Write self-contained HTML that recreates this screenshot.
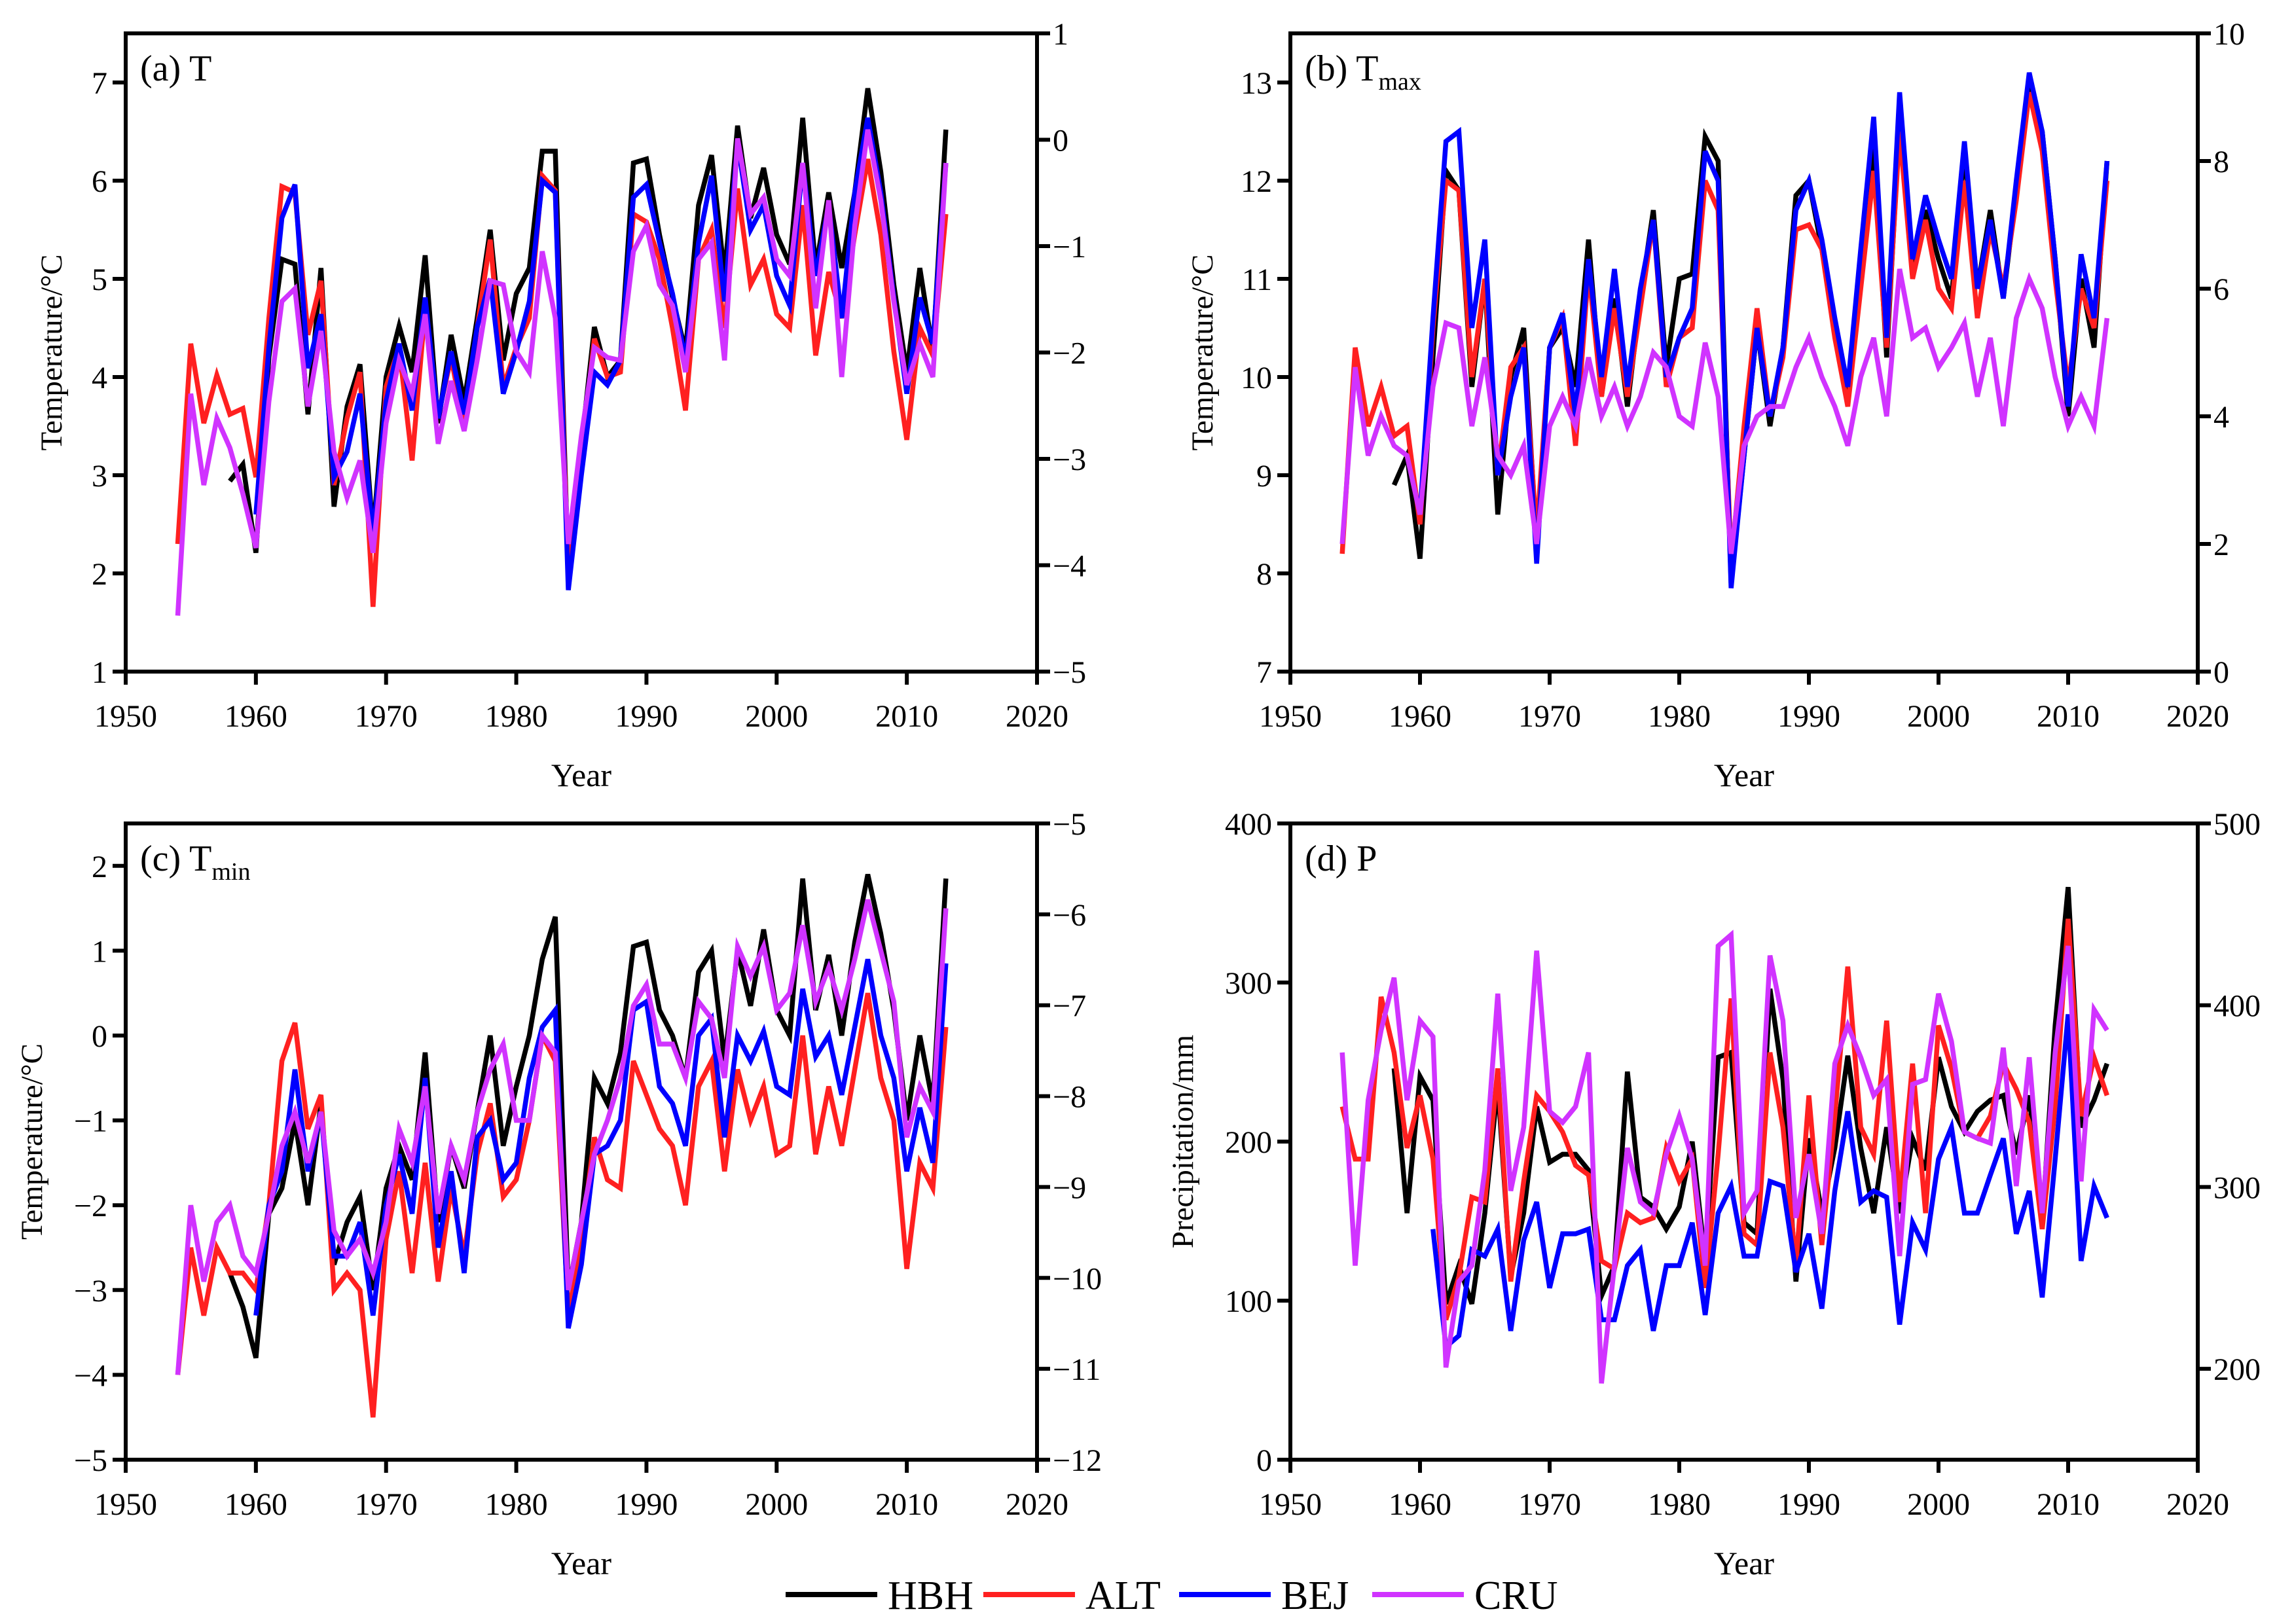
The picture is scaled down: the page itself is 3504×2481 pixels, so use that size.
<!DOCTYPE html>
<html><head><meta charset="utf-8"><style>
html,body{margin:0;padding:0;background:#fff}
svg{display:block}
text{font-family:"Liberation Serif",serif;fill:#000}
</style></head><body>
<svg id="fig" xmlns="http://www.w3.org/2000/svg" width="3504" height="2481" viewBox="0 0 3504 2481">
<rect width="3504" height="2481" fill="#fff"/>
<g id="legend"></g>
</svg>
<script>
const years = []; for (let y = 1954; y <= 2013; y++) years.push(y);
const xTicks = [1950,1960,1970,1980,1990,2000,2010,2020];
// (a) T
const aHBH = [null,null,null,null,2.94,3.11,2.21,4.2,5.2,5.15,3.62,5.11,2.68,3.7,4.13,2.4,4.0,4.52,4.05,5.24,3.53,4.43,3.75,4.6,5.5,4.17,4.85,5.11,6.3,6.3,2.0,3.3,4.51,4.0,4.17,6.18,6.22,5.45,4.81,4.26,5.75,6.26,5.03,6.56,5.62,6.13,5.45,5.15,6.64,5.11,5.88,5.11,5.88,6.94,6.09,4.94,4.05,5.11,4.26,6.52];
const aALT = [2.3,4.34,3.53,4.02,3.62,3.68,2.98,4.6,5.94,5.88,4.43,4.98,2.9,3.58,4.05,1.66,3.9,4.3,3.15,4.7,3.6,4.2,3.5,4.5,5.4,3.9,4.3,4.6,6.05,5.9,2.0,3.2,4.39,4.0,4.05,5.66,5.58,5.2,4.5,3.66,5.2,5.5,4.5,5.92,4.94,5.2,4.64,4.5,5.75,4.22,5.07,4.6,5.45,6.22,5.45,4.26,3.36,4.5,4.22,5.66];
const aBEJ = [null,null,null,null,null,null,2.6,4.3,5.62,5.96,4.09,4.64,2.98,3.24,3.83,2.38,3.75,4.34,3.66,4.81,3.58,4.26,3.62,4.51,5.0,3.83,4.26,4.77,6.0,5.88,1.83,3.0,4.05,3.92,4.17,5.83,5.96,5.37,4.85,4.17,5.37,6.05,4.77,6.39,5.5,5.75,5.03,4.73,6.18,5.03,5.75,4.6,5.88,6.64,5.88,4.81,3.83,4.81,4.34,6.18];
const aCRU = [1.57,3.83,2.9,3.58,3.28,2.81,2.26,3.75,4.77,4.9,3.7,4.47,3.24,2.77,3.15,2.21,3.53,4.17,3.83,4.64,3.32,3.96,3.45,4.17,4.98,4.94,4.26,4.05,5.28,4.6,2.3,3.4,4.3,4.2,4.17,5.28,5.54,4.94,4.73,4.05,5.2,5.37,4.17,6.43,5.66,5.83,5.2,5.03,6.18,4.7,5.8,4.0,5.54,6.52,5.8,4.77,3.92,4.34,4.0,6.18];
// (b) Tmax
const bHBH = [null,null,null,null,8.9,9.2,8.15,10.2,12.1,11.9,9.9,11.0,8.6,10.0,10.5,8.3,10.3,10.5,9.9,11.4,9.8,10.8,9.7,10.8,11.7,10.1,11.0,11.05,12.45,12.2,7.9,9.2,10.5,9.5,10.3,11.85,12.0,11.3,10.5,9.8,11.0,12.4,10.2,12.6,11.1,11.7,11.2,10.8,12.3,10.9,11.7,10.8,11.9,13.0,12.5,11.2,9.6,11.0,10.3,12.2];
const bALT = [8.2,10.3,9.5,9.9,9.4,9.5,8.5,10.5,12.0,11.9,10.0,11.0,9.0,10.1,10.3,8.4,10.3,10.6,9.3,11.1,9.8,10.7,9.8,10.7,11.6,9.9,10.4,10.5,12.0,11.7,8.1,9.5,10.7,9.6,10.2,11.5,11.55,11.3,10.4,9.7,10.9,12.1,10.3,12.5,11.0,11.6,10.9,10.7,12.0,10.6,11.5,10.9,11.8,12.9,12.3,11.0,9.9,10.9,10.5,12.0];
const bBEJ = [null,null,null,null,null,null,8.6,10.6,12.4,12.5,10.5,11.4,9.0,9.8,10.3,8.1,10.3,10.65,9.6,11.2,10.0,11.1,9.9,10.9,11.6,10.0,10.4,10.7,12.3,12.0,7.85,9.2,10.5,9.6,10.3,11.7,12.0,11.4,10.6,9.9,11.3,12.65,10.4,12.9,11.2,11.85,11.4,11.0,12.4,10.9,11.6,10.8,12.0,13.1,12.5,11.2,9.7,11.25,10.6,12.2];
const bCRU = [8.3,10.1,9.2,9.6,9.3,9.2,8.6,9.9,10.55,10.5,9.5,10.2,9.2,9.0,9.3,8.3,9.5,9.8,9.5,10.2,9.6,9.9,9.5,9.8,10.25,10.1,9.6,9.5,10.35,9.8,8.2,9.3,9.6,9.7,9.7,10.1,10.4,10.0,9.7,9.3,10.0,10.4,9.6,11.1,10.4,10.5,10.1,10.3,10.55,9.8,10.4,9.5,10.6,11.0,10.7,10.0,9.5,9.8,9.5,10.6];
// (c) Tmin
const cHBH = [null,null,null,null,-2.8,-3.2,-3.8,-2.1,-1.8,-1.0,-2.0,-0.8,-2.7,-2.2,-1.9,-3.0,-1.8,-1.3,-1.7,-0.2,-2.2,-1.3,-1.8,-0.9,0.0,-1.3,-0.6,0.0,0.9,1.4,-3.0,-2.2,-0.5,-0.8,-0.2,1.05,1.1,0.3,0.0,-0.5,0.75,1.0,-0.3,1.0,0.35,1.25,0.3,0.0,1.85,0.3,0.95,0.0,1.1,1.9,1.2,0.3,-1.0,0.0,-0.8,1.85];
const cALT = [-4.0,-2.5,-3.3,-2.5,-2.8,-2.8,-3.0,-2.0,-0.3,0.15,-1.1,-0.7,-3.0,-2.8,-3.0,-4.5,-2.4,-1.6,-2.8,-1.5,-2.9,-1.8,-2.6,-1.4,-0.8,-1.9,-1.7,-1.0,0.0,-0.3,-3.3,-2.4,-1.2,-1.7,-1.8,-0.3,-0.7,-1.1,-1.3,-2.0,-0.6,-0.3,-1.6,-0.4,-1.0,-0.6,-1.4,-1.3,0.0,-1.4,-0.6,-1.3,-0.4,0.5,-0.5,-1.0,-2.75,-1.5,-1.8,0.1];
const cBEJ = [null,null,null,null,null,null,-3.3,-2.0,-1.6,-0.4,-1.6,-0.9,-2.6,-2.6,-2.2,-3.3,-2.0,-1.4,-2.1,-0.5,-2.5,-1.6,-2.8,-1.2,-1.0,-1.7,-1.5,-0.5,0.1,0.3,-3.45,-2.7,-1.4,-1.3,-1.0,0.3,0.4,-0.6,-0.8,-1.3,0.0,0.2,-1.2,0.0,-0.3,0.05,-0.6,-0.7,0.55,-0.25,0.0,-0.7,0.1,0.9,0.0,-0.5,-1.6,-0.85,-1.5,0.85];
const cCRU = [-4.0,-2.0,-2.9,-2.2,-2.0,-2.6,-2.8,-2.1,-1.3,-0.9,-1.5,-0.9,-2.3,-2.6,-2.4,-2.8,-2.2,-1.1,-1.5,-0.6,-2.1,-1.3,-1.7,-0.9,-0.4,-0.1,-1.0,-1.0,0.0,-0.2,-3.0,-2.2,-1.4,-1.0,-0.5,0.35,0.6,-0.1,-0.1,-0.5,0.4,0.2,-0.5,1.05,0.7,1.05,0.3,0.5,1.3,0.4,0.8,0.3,0.9,1.6,1.0,0.4,-1.2,-0.6,-0.9,1.5];
// (d) P
const dHBH = [null,null,null,null,246,155,241,226,98,122,98,155,236,115,155,222,187,192,192,182,103,122,244,165,159,145,159,200,125,253,256,149,142,296,239,112,202,155,196,254,196,155,209,155,202,182,253,222,206,219,226,229,192,229,149,273,360,209,226,249];
const dALT = [222,189,189,291,256,196,229,189,88,115,165,162,246,112,175,229,219,206,185,179,125,120,155,149,152,196,175,189,108,192,290,142,135,256,209,122,229,135,216,310,209,192,276,162,249,155,273,246,206,202,216,249,233,212,145,222,340,216,253,229];
const dBEJ = [null,null,null,null,null,null,null,145,71,78,132,128,145,81,138,162,108,142,142,145,88,88,122,132,81,122,122,149,91,155,172,128,128,175,172,118,142,95,169,219,162,169,165,85,149,132,189,209,155,155,179,202,142,169,102,189,280,125,172,152];
const dCRU = [256,122,226,270,303,226,276,266,58,112,122,182,293,169,209,320,219,212,222,256,48,122,196,162,155,192,216,189,122,323,330,155,169,317,276,152,192,142,249,273,253,229,239,128,236,239,293,263,206,202,199,259,172,253,155,256,323,175,283,270];

const aLeftTicks = [1,2,3,4,5,6,7];
const aRightTicks = [-5,-4,-3,-2,-1,0,1];
const bLeftTicks = [7,8,9,10,11,12,13];
const bRightTicks = [0,2,4,6,8,10];
const cLeftTicks = [-5,-4,-3,-2,-1,0,1,2];
const cRightTicks = [-12,-11,-10,-9,-8,-7,-6,-5];
const dLeftTicks = [0,100,200,300,400];
const dRightTicks = [200,300,400,500];

const NS = 'http://www.w3.org/2000/svg';
const svg = document.getElementById('fig');
function mk(tag, attrs, parent) {
  const e = document.createElementNS(NS, tag);
  for (const k in attrs) e.setAttribute(k, attrs[k]);
  (parent || svg).appendChild(e);
  return e;
}
const COLORS = {HBH:'#000000', ALT:'#ff2020', BEJ:'#0000ff', CRU:'#d033ff'};

function panel(p) {
  const g = mk('g', {});
  
  
  const xS = v => p.x0 + (v - 1950) / 70 * (p.x1 - p.x0);
  const yL = v => p.yb - (v - p.lmin) / (p.lmax - p.lmin) * (p.yb - p.yt);
  const yR = v => p.yb - (v - p.rmin) / (p.rmax - p.rmin) * (p.yb - p.yt);
  const series = [['HBH', p.s[0]], ['ALT', p.s[1]], ['BEJ', p.s[2]], ['CRU', p.s[3]]];
  series.forEach(([nm, arr]) => {
    let d = '', pen = false;
    arr.forEach((v, i) => {
      if (v === null) { pen = false; return; }
      d += (pen ? 'L' : 'M') + xS(years[i]).toFixed(1) + ' ' + yL(v).toFixed(1) + ' ';
      pen = true;
    });
    const path = mk('path', {d: d, fill: 'none', stroke: COLORS[nm], 'stroke-width': 7.5, 'stroke-linejoin': 'miter'}, g);
    
    
  });
  const fr = mk('rect', {x: p.x0, y: p.yt, width: p.x1 - p.x0, height: p.yb - p.yt, fill: 'none', stroke: '#000', 'stroke-width': 6}, g);
  
  
  xTicks.forEach(t => {
    const x = xS(t);
    mk('line', {x1: x, x2: x, y1: p.yb, y2: p.yb + 20, stroke: '#000', 'stroke-width': 6}, g);
    const tx = mk('text', {x: x, y: p.yb + 84, 'font-size': 48, 'text-anchor': 'middle'}, g);
    tx.textContent = t;
    
    
  });
  p.lt.forEach(t => {
    const y = yL(t);
    mk('line', {x1: p.x0 - 20, x2: p.x0, y1: y, y2: y, stroke: '#000', 'stroke-width': 6}, g);
    const tx = mk('text', {x: p.x0 - 28, y: y + 17, 'font-size': 48, 'text-anchor': 'end'}, g);
    tx.textContent = t < 0 ? '\u2212' + (-t) : t;
    
    
  });
  p.rt.forEach(t => {
    const y = yR(t);
    mk('line', {x1: p.x1, x2: p.x1 + 20, y1: y, y2: y, stroke: '#000', 'stroke-width': 6}, g);
    const tx = mk('text', {x: p.x1 + 24, y: y + 17, 'font-size': 48, 'text-anchor': 'start'}, g);
    tx.textContent = t < 0 ? '\u2212' + (-t) : t;
    
    
  });
  const xt = mk('text', {x: (p.x0 + p.x1) / 2, y: p.yb + 175, 'font-size': 50, 'text-anchor': 'middle'}, g);
  xt.textContent = 'Year';
  
  
  const cy = (p.yt + p.yb) / 2;
  const yt = mk('text', {x: p.ytx, y: cy, 'font-size': 47, 'text-anchor': 'middle', transform: 'rotate(-90 ' + p.ytx + ' ' + cy + ')'}, g);
  yt.textContent = p.ytitle;
  
  
  const lb = mk('text', {x: p.x0 + 22, y: p.yt + 72, 'font-size': 56}, g);
  lb.innerHTML = p.label;
  
  
}

panel({id:'a', x0:192, x1:1584, yt:51, yb:1026, lmin:1, lmax:7.5, rmin:-5, rmax:1, lt:aLeftTicks, rt:aRightTicks, s:[aHBH,aALT,aBEJ,aCRU], ytitle:'Temperature/\u00B0C', ytx:94, label:'(a) T'});
panel({id:'b', x0:1971, x1:3357, yt:51, yb:1026, lmin:7, lmax:13.5, rmin:0, rmax:10, lt:bLeftTicks, rt:bRightTicks, s:[bHBH,bALT,bBEJ,bCRU], ytitle:'Temperature/\u00B0C', ytx:1852, label:'(b) T<tspan font-size="38" dy="14">max</tspan>'});
panel({id:'c', x0:192, x1:1584, yt:1258, yb:2230, lmin:-5, lmax:2.5, rmin:-12, rmax:-5, lt:cLeftTicks, rt:cRightTicks, s:[cHBH,cALT,cBEJ,cCRU], ytitle:'Temperature/\u00B0C', ytx:64, label:'(c) T<tspan font-size="38" dy="14">min</tspan>'});
panel({id:'d', x0:1971, x1:3357, yt:1258, yb:2230, lmin:0, lmax:400, rmin:150, rmax:500, lt:dLeftTicks, rt:dRightTicks, s:[dHBH,dALT,dBEJ,dCRU], ytitle:'Precipitation/mm', ytx:1822, label:'(d) P'});

const leg = document.getElementById('legend');
const legendNames = ['HBH','ALT','BEJ','CRU'];
const legendX = [1200, 1502, 1801, 2096];
legendNames.forEach((nm, i) => {
  const x = legendX[i];
  const ln = mk('line', {x1: x, x2: x + 140, y1: 2436, y2: 2436, stroke: COLORS[nm], 'stroke-width': 8}, leg);
  
  
  const t = mk('text', {x: x + 156, y: 2458, 'font-size': 62}, leg);
  t.textContent = nm;
  
  
});
</script>
</body></html>
